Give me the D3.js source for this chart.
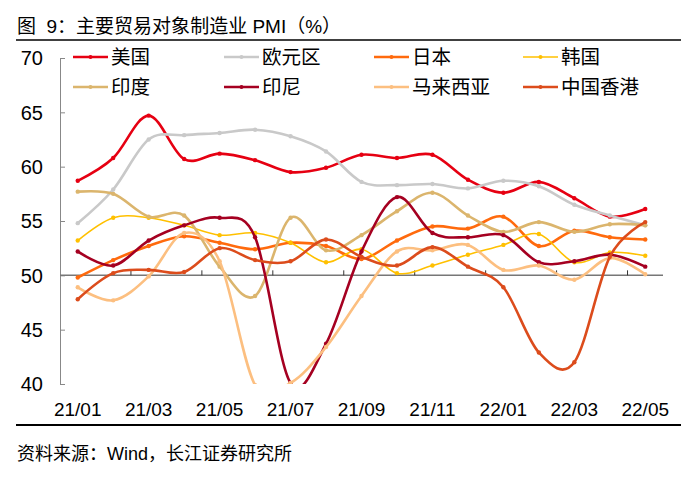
<!DOCTYPE html>
<html>
<head>
<meta charset="utf-8">
<script src="https://cdn.jsdelivr.net/npm/d3@7"></script>
<style>
  body { margin: 0; background: #fff; }
  svg { display: block; font-family: "Liberation Sans", Arial, "Noto Sans CJK SC", sans-serif; }
</style>
</head>
<body>
<svg id="canvas"></svg>
<script>
"use strict";

// Months on the x axis
const months = ["21/01", "21/02", "21/03", "21/04", "21/05", "21/06", "21/07", "21/08", "21/09",
    "21/10", "21/11", "21/12", "22/01", "22/02", "22/03", "22/04", "22/05"];
const tickLabels = ["21/01", "21/03", "21/05", "21/07", "21/09", "21/11", "22/01", "22/03", "22/05"];
const yTicks = [40, 45, 50, 55, 60, 65, 70];

// PMI values
const usa       = [58.7, 60.8, 64.7, 60.7, 61.2, 60.6, 59.5, 59.9, 61.1, 60.8, 61.1, 58.8, 57.6, 58.6, 57.1, 55.4, 56.1];
const euroArea  = [54.8, 57.9, 62.5, 62.9, 63.1, 63.4, 62.8, 61.4, 58.6, 58.3, 58.4, 58.0, 58.7, 58.2, 56.5, 55.5, 54.6];
const japan     = [49.8, 51.4, 52.7, 53.6, 53.0, 52.4, 53.0, 52.7, 51.5, 53.2, 54.5, 54.3, 55.4, 52.7, 54.1, 53.5, 53.3];
const korea     = [53.2, 55.3, 55.3, 54.6, 53.7, 53.9, 53.0, 51.2, 52.4, 50.2, 50.9, 51.9, 52.8, 53.8, 51.2, 52.1, 51.8];
const india     = [57.7, 57.5, 55.4, 55.5, 50.8, 48.1, 55.3, 52.3, 53.7, 55.9, 57.6, 55.5, 54.0, 54.9, 54.0, 54.7, 54.6];
const indonesia = [52.2, 50.9, 53.2, 54.6, 55.3, 53.5, 40.1, 43.7, 52.2, 57.2, 53.9, 53.5, 53.7, 51.2, 51.3, 51.9, 50.8];
const malaysia  = [48.9, 47.7, 49.9, 53.9, 51.3, 39.9, 40.1, 43.4, 48.1, 52.2, 52.3, 52.8, 50.5, 50.9, 49.6, 51.6, 50.1];
const hongKong  = [47.8, 50.2, 50.5, 50.3, 52.5, 51.4, 51.3, 53.3, 51.7, 50.9, 52.6, 50.8, 48.9, 42.9, 42.0, 51.7, 54.9];

const seriesNames = ["美国", "欧元区", "日本", "韩国", "印度", "印尼", "马来西亚", "中国香港"];
const seriesValues = [usa, euroArea, japan, korea, india, indonesia, malaysia, hongKong];
const seriesColors = ["#e60012", "#c9c9c9", "#ff6a0d", "#ffc000", "#dbb56d", "#a50021", "#fcbf80", "#dc4c1c"];

const width = 697, height = 478;
const plot = { left: 60, right: 663, top: 58, bottom: 384 };

const svg = d3.select("#canvas")
    .attr("width", width)
    .attr("height", height);

const x = d3.scaleBand()
    .domain(months)
    .range([plot.left, plot.right]);

const y = d3.scaleLinear()
    .domain([40, 70])
    .range([plot.bottom, plot.top]);

const cx = (m) => x(m) + x.bandwidth() / 2;

// Title and rules
svg.append("text")
    .attr("x", 17)
    .attr("y", 33)
    .attr("font-size", "19px")
    .attr("fill", "#000")
    .style("white-space", "pre")
    .text("图  9：主要贸易对象制造业 PMI（%）");

svg.append("line")
    .attr("x1", 16).attr("x2", 681)
    .attr("y1", 40).attr("y2", 40)
    .attr("stroke", "#000")
    .attr("stroke-width", 1.5);

svg.append("line")
    .attr("x1", 16).attr("x2", 681)
    .attr("y1", 425).attr("y2", 425)
    .attr("stroke", "#000")
    .attr("stroke-width", 2);

svg.append("text")
    .attr("x", 17)
    .attr("y", 460)
    .attr("font-size", "18px")
    .attr("fill", "#000")
    .text("资料来源：Wind，长江证券研究所");

// Y axis (ticks point into the plot)
const yAxis = svg.append("g")
    .attr("transform", `translate(${plot.left},0)`)
    .call(d3.axisRight(y).tickValues(yTicks).tickSize(5).tickFormat(""));
yAxis.select(".domain").attr("stroke", "#888").attr("d", `M0.5,${plot.top}V${plot.bottom}`);
yAxis.selectAll(".tick line").attr("stroke", "#888");

svg.append("g")
    .selectAll("text")
    .data(yTicks)
    .enter()
    .append("text")
    .attr("x", 43)
    .attr("y", (d) => y(d))
    .attr("dy", "0.36em")
    .attr("text-anchor", "end")
    .attr("font-size", "20px")
    .attr("fill", "#000")
    .text((d) => d);

// X axis crosses at 50, labels sit below the plot
const boundaries = months.map((m, i) => i).filter((i) => i > 0 && i % 2 === 0);
svg.append("line")
    .attr("x1", plot.left).attr("x2", plot.right)
    .attr("y1", y(50)).attr("y2", y(50))
    .attr("stroke", "#777")
    .attr("stroke-width", 1.5);

svg.append("g")
    .selectAll("line")
    .data(boundaries)
    .enter()
    .append("line")
    .attr("x1", (i) => x(months[i]))
    .attr("x2", (i) => x(months[i]))
    .attr("y1", y(50))
    .attr("y2", y(50) - 5)
    .attr("stroke", "#333");

svg.append("g")
    .selectAll("text")
    .data(tickLabels)
    .enter()
    .append("text")
    .attr("x", (d) => cx(d))
    .attr("y", 409)
    .attr("dy", "0.36em")
    .attr("text-anchor", "middle")
    .attr("font-size", "19px")
    .attr("fill", "#000")
    .text((d) => d);

// Series lines, clipped to the plot area
svg.append("clipPath")
    .attr("id", "plot-clip")
    .append("rect")
    .attr("x", plot.left)
    .attr("y", plot.top)
    .attr("width", plot.right - plot.left)
    .attr("height", plot.bottom - plot.top);

const line = d3.line()
    .x((d, i) => cx(months[i]))
    .y((d) => y(d))
    .curve(d3.curveCardinal.tension(0));

const seriesGroup = svg.append("g").attr("clip-path", "url(#plot-clip)");

seriesValues.forEach((values, s) => {
    const g = seriesGroup.append("g");
    g.append("path")
        .datum(values)
        .attr("d", line)
        .attr("fill", "none")
        .attr("stroke", seriesColors[s])
        .attr("stroke-width", s === 3 ? 1.6 : 2.6)
        .attr("stroke-linejoin", "round");
    g.selectAll("circle")
        .data(values)
        .enter()
        .append("circle")
        .attr("cx", (d, i) => cx(months[i]))
        .attr("cy", (d) => y(d))
        .attr("r", 2.2)
        .attr("fill", seriesColors[s]);
});

// Legend: 4 columns x 2 rows
const legendCols = [73, 224, 374, 523];
const legendRows = [57, 87];
const legendItems = svg.append("g")
    .selectAll("g")
    .data(seriesNames)
    .enter()
    .append("g")
    .attr("transform", (d, i) => `translate(${legendCols[i % 4]},${legendRows[Math.floor(i / 4)]})`);

legendItems.append("line")
    .attr("x1", 0).attr("x2", 35)
    .attr("stroke", (d, i) => seriesColors[i])
    .attr("stroke-width", (d, i) => i === 3 ? 1.6 : 2.6);

legendItems.append("circle")
    .attr("cx", 17.5)
    .attr("r", 2)
    .attr("fill", (d, i) => seriesColors[i]);

legendItems.append("text")
    .attr("x", 38)
    .attr("dy", "0.36em")
    .attr("font-size", "19.5px")
    .attr("fill", "#000")
    .text((d) => d);
</script>
</body>
</html>
